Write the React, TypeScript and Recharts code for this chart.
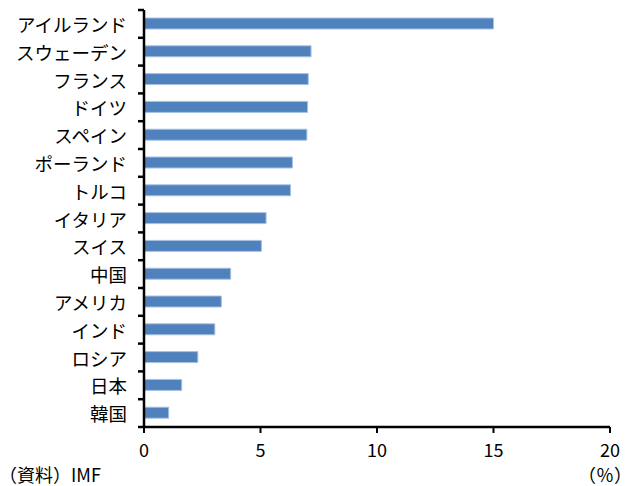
import React from "react";
import { BarChart, Bar, XAxis, YAxis } from "recharts";

const countries = [
  "アイルランド", "スウェーデン", "フランス", "ドイツ", "スペイン",
  "ポーランド", "トルコ", "イタリア", "スイス", "中国",
  "アメリカ", "インド", "ロシア", "日本", "韓国",
];
const values = [15.0, 7.17, 7.05, 7.02, 6.99, 6.37, 6.29, 5.24, 5.04, 3.72, 3.32, 3.04, 2.31, 1.62, 1.06];
const xTicks = [0, 5, 10, 15, 20];

const data = countries.map((name, i) => ({ name, value: values[i] }));

const FONT = "'Noto Sans CJK JP', 'Noto Sans', sans-serif";
const PLOT_H = 417;

const YTick = (props: any) => {
  const { x, y, payload, index, visibleTicksCount } = props;
  const half = PLOT_H / countries.length / 2;
  const ax = x + 8;
  return (
    <g>
      <line x1={ax - 6} x2={ax} y1={y - half} y2={y - half} stroke="#000" strokeWidth={2.5} />
      {index === visibleTicksCount - 1 && (
        <line x1={ax - 6} x2={ax} y1={y + half} y2={y + half} stroke="#000" strokeWidth={2.5} />
      )}
      <text x={ax - 17} y={y} textAnchor="end" dominantBaseline="central" fontSize={18.5} fill="#000" fontFamily={FONT}>
        {payload.value}
      </text>
    </g>
  );
};

export default function App() {
  return (
    <div style={{ position: "absolute", left: 0, top: 0, width: 635, height: 486, background: "#fff" }}>
      <BarChart
        width={635}
        height={486}
        data={data}
        layout="vertical"
        margin={{ top: 10, right: 25, bottom: 29, left: 0 }}
        barCategoryGap={0}
      >
        <XAxis
          type="number"
          domain={[0, 20]}
          ticks={xTicks}
          interval={0}
          height={30}
          axisLine={{ stroke: "#000", strokeWidth: 2.5 }}
          tickLine={{ stroke: "#000", strokeWidth: 2 }}
          tickSize={6}
          tickMargin={11}
          tick={{ fill: "#000", fontSize: 18, fontFamily: FONT }}
        />
        <YAxis
          type="category"
          dataKey="name"
          width={144}
          interval={0}
          axisLine={{ stroke: "#000", strokeWidth: 2.5 }}
          tickLine={false}
          tick={<YTick />}
        />
        <Bar dataKey="value" barSize={11} fill="#4F81BD" stroke="#A7C2E3" strokeWidth={1} isAnimationActive={false} />
      </BarChart>
      <div style={{ position: "absolute", left: -1, top: 465, fontSize: 18, fontFamily: FONT, color: "#000", lineHeight: "18px", whiteSpace: "nowrap" }}>
        （資料）IMF
      </div>
      <div style={{ position: "absolute", left: 578, top: 465, fontSize: 18, fontFamily: FONT, color: "#000", lineHeight: "18px", whiteSpace: "nowrap" }}>
        （％）
      </div>
    </div>
  );
}
